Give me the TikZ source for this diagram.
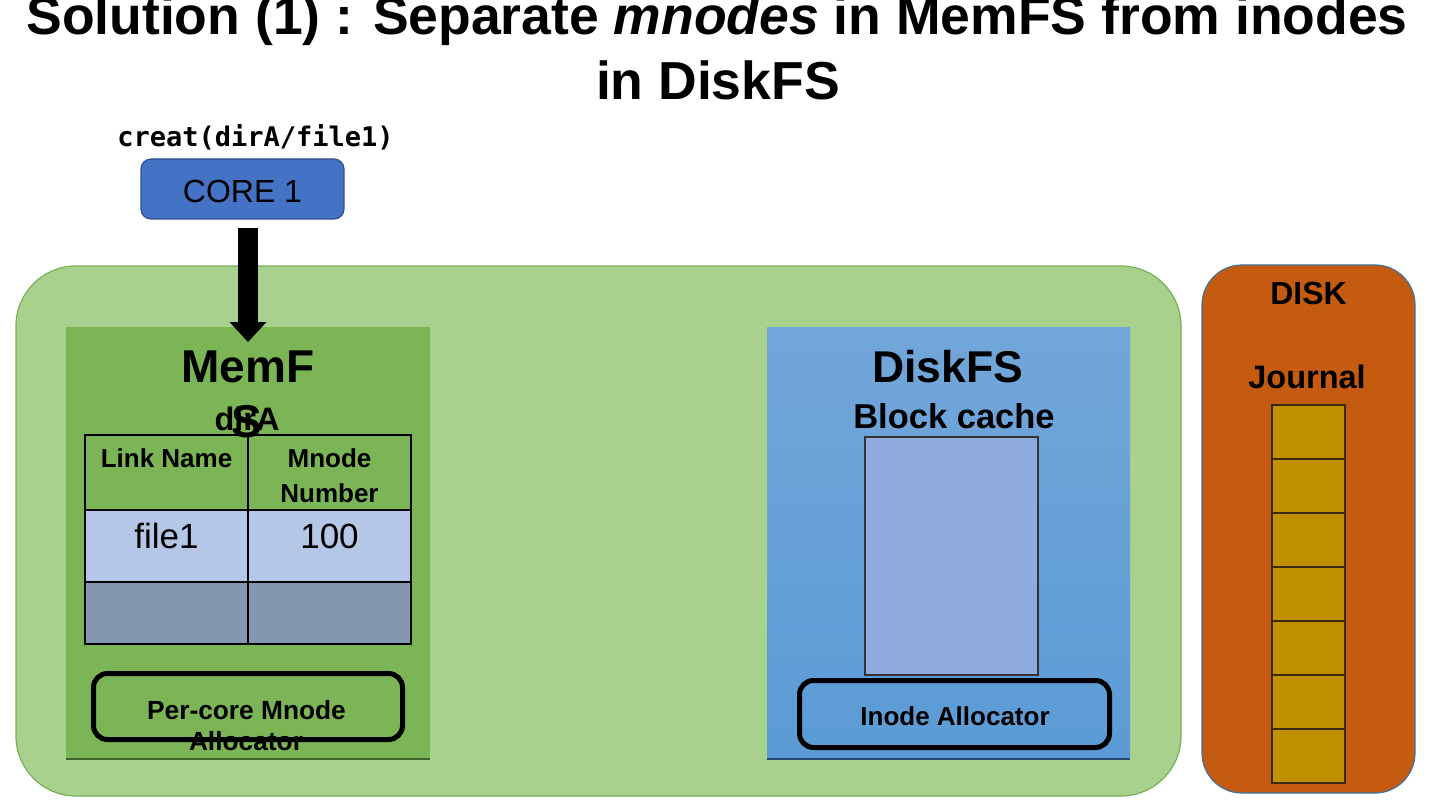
\documentclass[tikz,border=0pt]{standalone}
\usepackage{fontspec}
\setmainfont{Liberation Sans}
\newfontfamily\monof{DejaVu Sans Mono}
\usetikzlibrary{arrows.meta}
\definecolor{outerg}{RGB}{169,209,142}
\definecolor{outerb}{RGB}{120,176,88}
\definecolor{memg}{RGB}{124,181,86}
\definecolor{memdark}{RGB}{60,100,40}
\definecolor{dtop}{RGB}{114,166,218}
\definecolor{dbot}{RGB}{91,155,213}
\definecolor{ddark}{RGB}{40,70,110}
\definecolor{rowlight}{RGB}{180,199,231}
\definecolor{rowdark}{RGB}{132,151,176}
\definecolor{corefill}{RGB}{68,114,196}
\definecolor{coreline}{RGB}{47,82,143}
\definecolor{diskfill}{RGB}{197,90,17}
\definecolor{diskline}{RGB}{65,113,156}
\definecolor{jfill}{RGB}{191,144,0}
\definecolor{jline}{RGB}{58,40,15}
\definecolor{bcfill}{RGB}{143,170,220}
\tikzset{
  txt/.style={inner sep=0pt, outer sep=0pt, anchor=base},
  box/.style={rectangle, inner sep=0pt, outer sep=0pt},
  cell/.style={box, draw=black, line width=1.3pt, minimum width=163pt},
  alloc/.style={box, draw=black, line width=5pt, rounded corners=14pt},
  jcell/.style={box, draw=jline, fill=jfill, line width=1.2pt, minimum width=73pt, minimum height=54pt},
}
\newcommand{\fsz}[1]{\fontsize{#1}{#1}\selectfont}
\begin{document}
\begin{tikzpicture}[x=1pt,y=-1pt]
\useasboundingbox (0,0) rectangle (1440,810);
\clip (0,0) rectangle (1440,810);
\fill[white] (0,0) rectangle (1440,810);

% title
\node[txt, font=\bfseries\fsz{53.5}] (title1) at (717,35) {Solution (1) : Separate \textit{mnodes} in MemFS from inodes};
\node[txt, font=\bfseries\fsz{53.5}] (title2) at (718,100) {in DiskFS};

% call and core
\node[txt, font=\monof\bfseries\fsz{27}] (call) at (255.5,147) {creat(dirA/file1)};
\node[box, fill=corefill, draw=coreline, line width=1.2pt, rounded corners=10pt, minimum width=203pt, minimum height=60pt] (core) at (242.5,189) {};
\node[txt, font=\fsz{32}] (coretxt) at (242.5,203) {CORE 1};

% host
\node[box, fill=outerg, draw=outerb, line width=1.2pt, rounded corners=60pt, minimum width=1165pt, minimum height=530pt] (host) at (598.5,531) {};

% MemF
\node[box, fill=memg, minimum width=364pt, minimum height=432pt] (memf) at (248,543) {};
\draw[memdark, line width=1.5pt] (memf.south west) -- (memf.south east);
\node[txt, font=\bfseries\fsz{46}] (memftxt) at (248,382) {MemF};
\node[txt, font=\bfseries\fsz{32.5}] (dira) at (247,430) {dirA};
\node[txt, font=\bfseries\fsz{46}] (stxt) at (247,437) {S};

% table
\node[cell, minimum height=75pt] (h1) at (166.5,472.5) {};
\node[cell, minimum height=75pt] (h2) at (329.5,472.5) {};
\node[cell, fill=rowlight, minimum height=72pt] (r1) at (166.5,546) {};
\node[cell, fill=rowlight, minimum height=72pt] (r2) at (329.5,546) {};
\node[cell, fill=rowdark, minimum height=62pt] (s1) at (166.5,613) {};
\node[cell, fill=rowdark, minimum height=62pt] (s2) at (329.5,613) {};
\node[txt, font=\bfseries\fsz{26}] (ln) at (166.5,467) {Link Name};
\node[txt, font=\bfseries\fsz{26}] (mn1) at (329.5,467) {Mnode};
\node[txt, font=\bfseries\fsz{26}] (mn2) at (329.5,502) {Number};
\node[txt, font=\fsz{35}] (f1) at (166.5,548) {file1};
\node[txt, font=\fsz{35}] (n100) at (329.5,548) {100};

% mnode allocator
\node[alloc, minimum width=309pt, minimum height=66pt] (malloc) at (248,706.5) {};
\node[txt, font=\bfseries\fsz{26.3}] (ma1) at (246.5,719) {Per-core Mnode};
\node[txt, font=\bfseries\fsz{26.3}] (ma2) at (246,750) {Allocator};

% DiskFS
\node[box, top color=dtop, bottom color=dbot, minimum width=363pt, minimum height=432pt] (diskfs) at (948.5,543) {};
\draw[ddark, line width=1.5pt] (diskfs.south west) -- (diskfs.south east);
\node[txt, font=\bfseries\fsz{44.5}] (dftxt) at (947.5,382) {DiskFS};
\node[txt, font=\bfseries\fsz{34.5}] (bctxt) at (954,428) {Block cache};
\node[box, fill=bcfill, draw=black!80, line width=1.2pt, minimum width=173pt, minimum height=238pt] (bc) at (951.5,556) {};
\node[alloc, minimum width=310pt, minimum height=67pt] (ialloc) at (954.5,714) {};
\node[txt, font=\bfseries\fsz{26}] (iatxt) at (955,725) {Inode Allocator};

% DISK
\node[box, fill=diskfill, draw=diskline, line width=1.2pt, rounded corners=40pt, minimum width=213pt, minimum height=528pt] (disk) at (1308.5,529) {};
\node[txt, font=\bfseries\fsz{32}] (disktxt) at (1308.5,305) {DISK};
\node[txt, font=\bfseries\fsz{32.5}] (jtxt) at (1307,388) {Journal};
\foreach \i in {0,...,6} {
  \node[jcell] (j\i) at (1308.5,{432+54*\i}) {};
}

% arrow
\coordinate (a0) at ([xshift=5.5pt,yshift=-9pt]core.south);
\coordinate (a1) at ([yshift=-15pt]memf.north);
\draw[line width=20pt, -{Triangle[width=37pt,length=20pt,line width=0pt]}] (a0) -- (a1);
\end{tikzpicture}
\end{document}
